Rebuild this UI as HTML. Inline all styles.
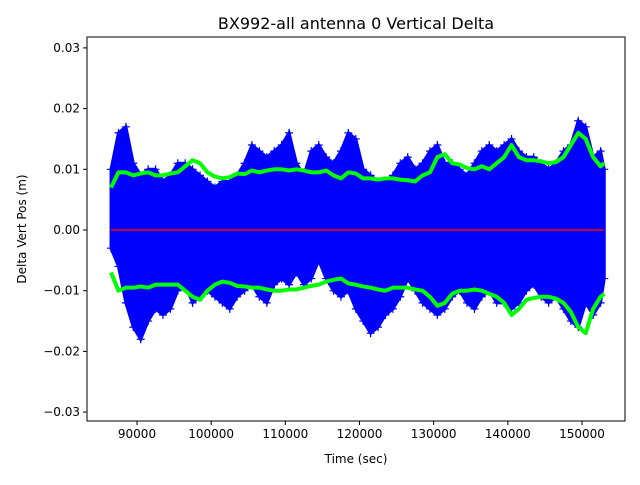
<!DOCTYPE html>
<html><head><meta charset="utf-8"><style>
body{margin:0;background:#fff;}
svg text{font-family:"DejaVu Sans","Liberation Sans",sans-serif;}
</style></head><body>
<svg id="chart" width="640" height="480" viewBox="0 0 640 480" xmlns="http://www.w3.org/2000/svg">
<rect x="0" y="0" width="640" height="480" fill="#fff"/>
<text x="356" y="29" font-size="16" text-anchor="middle">BX992-all antenna 0 Vertical Delta</text>
<g id="plot"></g>
<g id="axes"></g>
<text x="356" y="463" font-size="12" text-anchor="middle">Time (sec)</text>
<text x="26" y="229" font-size="12" text-anchor="middle" transform="rotate(-90 26 229)">Delta Vert Pos (m)</text>
</svg>
<script>
const times = [86500,87500,88500,89500,90500,91500,92500,93500,94500,95500,96500,97500,98500,99500,100500,101500,102500,103500,104500,105500,106500,107500,108500,109500,110500,111500,112500,113500,114500,115500,116500,117500,118500,119500,120500,121500,122500,123500,124500,125500,126500,127500,128500,129500,130500,131500,132500,133500,134500,135500,136500,137500,138500,139500,140500,141500,142500,143500,144500,145500,146500,147500,148500,149500,150500,151500,152500,153000];
const blueUpper = [10,16,17,11,9,10,10,8,9,11,11,10,9,8,7,8,8,9,11,14,13,12,13,14,16,11,9,13,14,12,11,13,16,15,10,9,8,8,9,11,12,10,11,13,14,11,11,10,9,11,13,14,13,14,15,13,12,12,11,10,11,13,14,18,17,12,13,10];
const blueLower = [-3,-6,-12,-16,-18,-15,-13,-14,-13,-10,-9,-12,-11,-10,-11,-12,-13,-11,-10,-9,-11,-12,-9,-8,-9,-7,-9,-8,-5,-8,-10,-11,-10,-13,-15,-17,-16,-14,-13,-11,-8,-10,-12,-13,-14,-13,-11,-10,-12,-13,-11,-10,-12,-12,-13,-12,-10,-9,-11,-12,-11,-13,-15,-16,-12,-14,-12,-8];
const greenUpper = [7,9.5,9.5,9,9.3,9.5,9,9,9.3,9.5,10.5,11.5,11,9.5,8.8,8.5,8.7,9.3,9.2,9.8,9.5,9.8,10,10,9.8,10,9.8,9.5,9.5,9.8,9,8.5,9.5,9.3,8.5,8.5,8.3,8.5,8.5,8.3,8.2,8,9,9.5,12,12.5,11,10.8,10.2,10,10.5,10,11,12,14,12,11.5,11.5,11.3,11,11.2,12,14,16,15,12,10.5,11];
const greenLower = [-7,-10,-9.5,-9.5,-9.3,-9.5,-9,-9,-9,-9,-10,-11,-11.5,-10,-9,-8.5,-8.7,-9.2,-9.3,-9.5,-9.5,-9.8,-10,-10,-9.8,-9.8,-9.5,-9.2,-9,-8.5,-8.2,-8,-8.8,-9,-9.3,-9.5,-9.8,-10,-9.5,-9.5,-9.5,-9.8,-10,-11,-12.5,-12,-10.5,-10,-10,-9.8,-10,-10.5,-11,-12,-14,-13,-11.5,-11.2,-11,-11,-11.3,-12,-13.5,-16,-17,-13,-11,-10.5];
const xTicks = [90000,100000,110000,120000,130000,140000,150000];
const yTicks = [-0.03,-0.02,-0.01,0.00,0.01,0.02,0.03];
const yTickLabels = ["\u22120.03","\u22120.02","\u22120.01","0.00","0.01","0.02","0.03"];

const L=87,R=625,T=37,B=421;
function xs(t){return 137+(t-90000)*0.0074167;}
function ys(v){return 230-v*6070;}
const NS="http://www.w3.org/2000/svg";
const plot=document.getElementById('plot'), axes=document.getElementById('axes');
function mk(tag,attrs,parent){const e=document.createElementNS(NS,tag);for(const k in attrs)e.setAttribute(k,attrs[k]);parent.appendChild(e);return e;}

// blue envelope
let pts=times.map((t,i)=>xs(t)+","+ys(blueUpper[i]/1000));
for(let i=times.length-1;i>=0;i--)pts.push(xs(times[i])+","+ys(blueLower[i]/1000));
const band=mk('polygon',{points:pts.join(' '),fill:'#0000ff',stroke:'#0000ff','stroke-width':3},plot);


// plus markers at extremes
times.forEach((t,i)=>{
  [blueUpper[i],blueLower[i]].forEach(v=>{
    const x=xs(t),y=ys(v/1000);
    const p=mk('path',{d:`M${x-4},${y}H${x+4}M${x},${y-4}V${y+4}`,stroke:'#0000ff','stroke-width':1.2,fill:'none'},plot);
    
    
  });
});
// green lines
function line(arr,name){
  const d=times.map((t,i)=>(i?'L':'M')+xs(t)+','+ys(arr[i]/1000)).join('');
  const p=mk('path',{d:d,stroke:'#00ff00','stroke-width':4,fill:'none','stroke-linejoin':'round'},plot);
  
  
}
line(greenUpper,'green-upper-line');
line(greenLower,'green-lower-line');
// red zero line
const z=mk('line',{x1:xs(times[0]),x2:xs(times[times.length-1]),y1:ys(0),y2:ys(0),stroke:'#ff0000','stroke-width':1.5},plot);



// axes frame
const fr=mk('rect',{x:L,y:T,width:R-L,height:B-T,fill:'none',stroke:'#000','stroke-width':1},axes);


xTicks.forEach(t=>{
  const x=xs(t);
  const tk=mk('line',{x1:x,x2:x,y1:B,y2:B+4,stroke:'#000'},axes);
  
  
  const tx=mk('text',{x:x,y:B+17,'font-size':12,'text-anchor':'middle'},axes);
  tx.textContent=t;
  
  
});
yTicks.forEach((v,i)=>{
  const y=ys(v);
  const tk=mk('line',{x1:L-4,x2:L,y1:y,y2:y,stroke:'#000'},axes);
  
  
  const tx=mk('text',{x:L-7,y:y+4,'font-size':12,'text-anchor':'end'},axes);
  tx.textContent=yTickLabels[i];
  
  
});
</script>
</body></html>
